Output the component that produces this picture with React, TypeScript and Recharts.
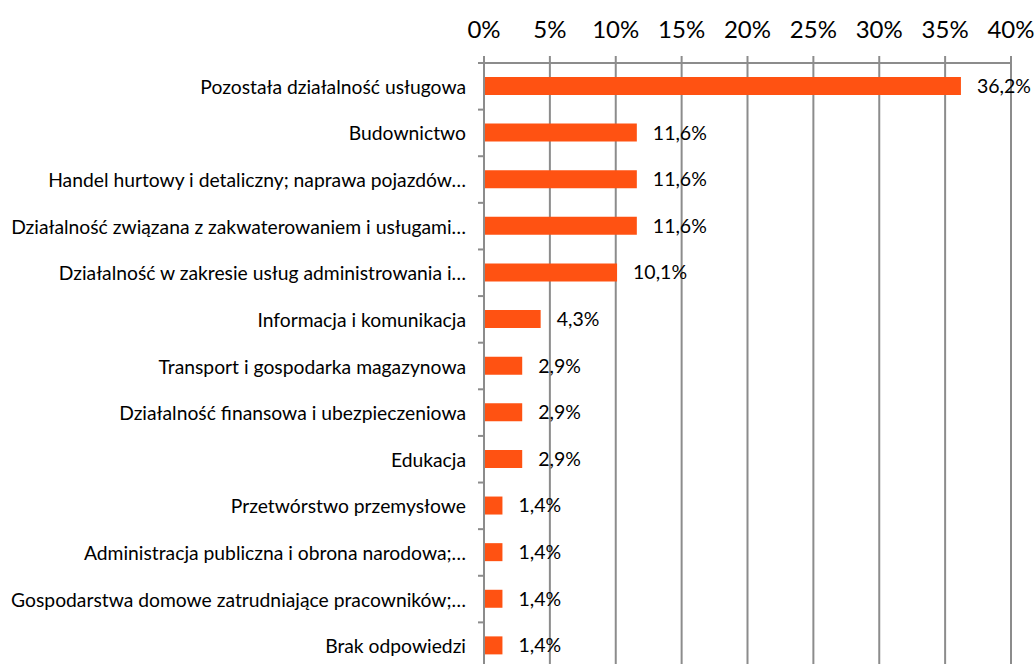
import React from "react"
import { Bar, BarChart, CartesianGrid, LabelList, XAxis, YAxis } from "recharts"

const categories = [
  "Pozostała działalność usługowa",
  "Budownictwo",
  "Handel hurtowy i detaliczny; naprawa pojazdów…",
  "Działalność związana z zakwaterowaniem i usługami…",
  "Działalność w zakresie usług administrowania i…",
  "Informacja i komunikacja",
  "Transport i gospodarka magazynowa",
  "Działalność finansowa i ubezpieczeniowa",
  "Edukacja",
  "Przetwórstwo przemysłowe",
  "Administracja publiczna i obrona narodowa;…",
  "Gospodarstwa domowe zatrudniające pracowników;…",
  "Brak odpowiedzi",
]

const shares = [36.2, 11.6, 11.6, 11.6, 10.1, 4.3, 2.9, 2.9, 2.9, 1.4, 1.4, 1.4, 1.4]

const xTicks = [0, 5, 10, 15, 20, 25, 30, 35, 40]

const data = categories.map((name, i) => ({ name, value: shares[i] }))

const WIDTH = 1036
const HEIGHT = 680
const TOP = 63
const BOTTOM = 11
const BAND = (HEIGHT - TOP - BOTTOM) / categories.length
const GRID = "#8c8c8c"
const FONT = "Lato, 'Open Sans', sans-serif"

// category label plus the small tick mark on the band's upper edge
const CategoryTick = (props: any) => {
  const { x, y, payload } = props
  return (
    <g>
      <line x1={x - 6} x2={x} y1={y - BAND / 2} y2={y - BAND / 2} stroke={GRID} strokeWidth={2} />
      <text x={x - 18} y={y} textAnchor="end" dominantBaseline="central" fontSize={19.3} fill="#000" fontFamily={FONT}>
        {payload.value}
      </text>
    </g>
  )
}

export default function App() {
  // the plot runs past the bottom of the window, as in the original, so clip it here
  return (
    <div style={{ position: "fixed", left: 0, top: 0, width: WIDTH, height: 664, overflow: "hidden", background: "#fff" }}>
      <BarChart
        width={WIDTH}
        height={HEIGHT}
        data={data}
        layout="vertical"
        margin={{ top: 0, right: 25, left: 0, bottom: BOTTOM }}
        barCategoryGap={0}
      >
        <CartesianGrid horizontal={false} stroke={GRID} strokeWidth={2} />
        <XAxis
          type="number"
          orientation="top"
          domain={[0, 40]}
          ticks={xTicks}
          tickFormatter={(v) => `${v}%`}
          height={TOP}
          tickSize={7}
          tickMargin={18}
          axisLine={{ stroke: GRID, strokeWidth: 2 }}
          tickLine={{ stroke: GRID, strokeWidth: 2 }}
          tick={{ fill: "#000", fontSize: 24, fontFamily: FONT }}
          interval={0}
        />
        <YAxis
          type="category"
          dataKey="name"
          width={484}
          tickSize={0}
          tickMargin={0}
          tickLine={false}
          axisLine={{ stroke: GRID, strokeWidth: 2 }}
          tick={<CategoryTick />}
          interval={0}
        />
        <Bar dataKey="value" fill="#FF5212" barSize={18} isAnimationActive={false}>
          <LabelList
            dataKey="value"
            position="right"
            offset={16}
            formatter={(v: any) => `${String(v).replace(".", ",")}%`}
            style={{ fill: "#000", fontSize: 19.5, fontFamily: FONT }}
          />
        </Bar>
      </BarChart>
    </div>
  )
}
